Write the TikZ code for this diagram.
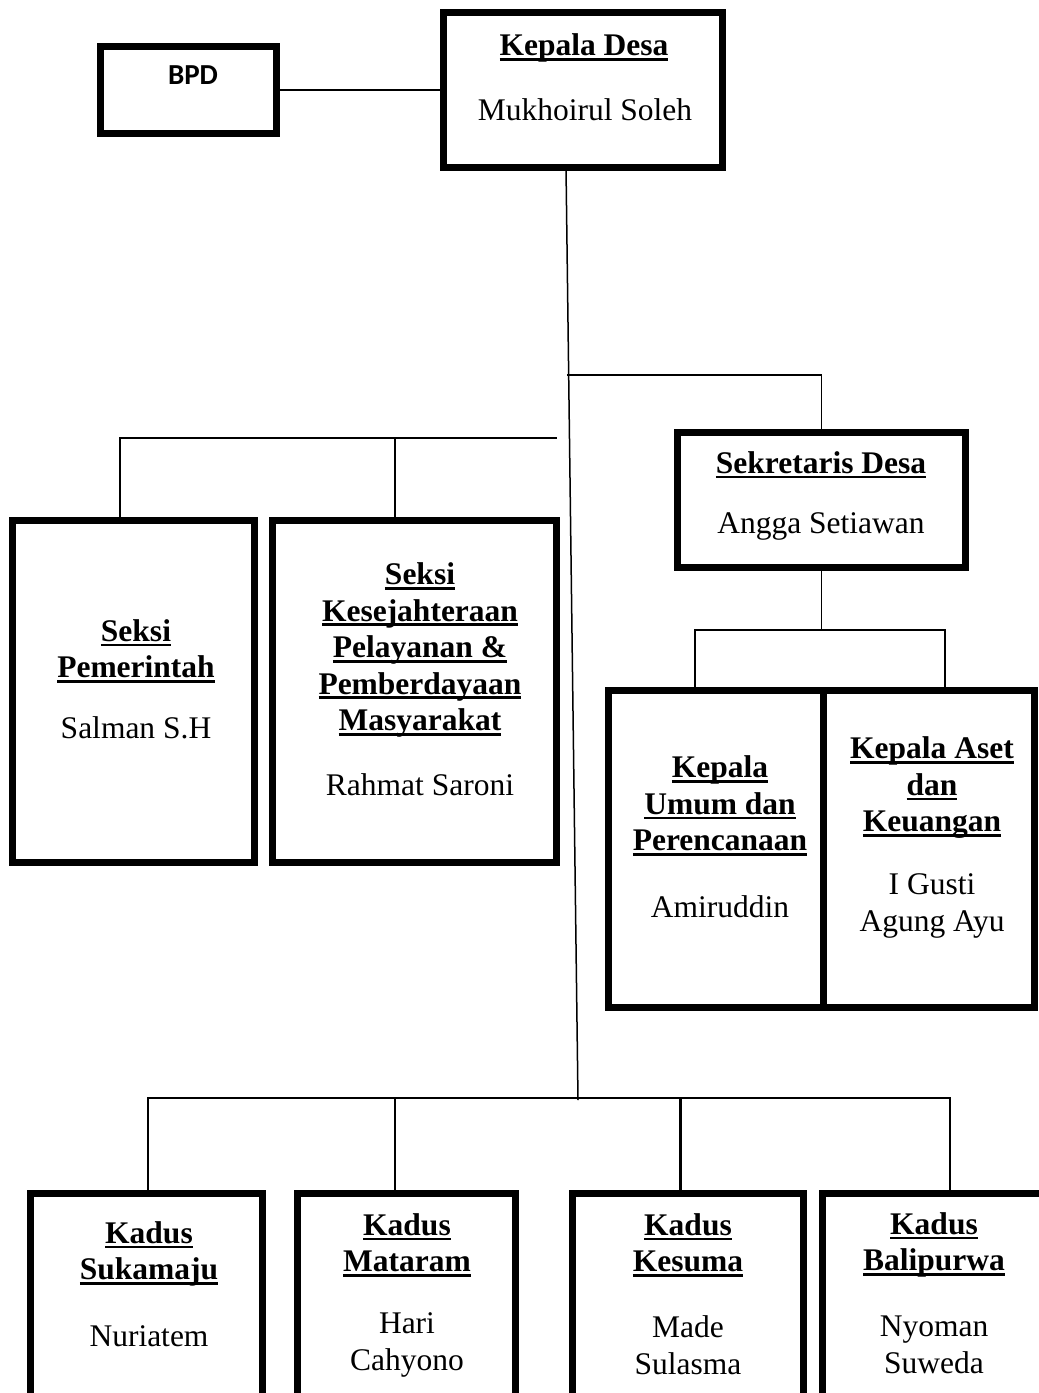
\documentclass[tikz,border=0pt]{standalone}
\usepackage{fontspec}
\setmainfont{Liberation Serif}
\newfontfamily\bpdfont{Carlito}
\newcommand\ulbox[1]{\setbox0=\hbox{#1}\rlap{\rule[-5pt]{\wd0}{2.6pt}}\box0}
\newcommand\boxat[5]{\node[orgbox, anchor=north west, minimum width={#4pt-#2pt-7pt}, minimum height={#5pt-#3pt-7pt}] (#1) at (#2+3.5,#3+3.5) {};}
\tikzset{
  orgbox/.style={draw, line width=7pt, inner sep=0pt, outer sep=0pt},
  conn/.style={line width=1.5pt},
  txt/.style={font=\fontsize{31.5}{36.5}\selectfont, align=center, inner sep=0pt},
  ttl/.style={txt, font=\fontsize{31.5}{36.5}\selectfont\bfseries}
}
\begin{document}
\begin{tikzpicture}[x=1pt,y=-1pt]
\useasboundingbox (0,0) rectangle (1039,1393);
\clip (0,0) rectangle (1039,1393);
% boxes
\boxat{bpd}{97}{43}{280}{137}
\boxat{kd}{440}{9}{726}{171}
\boxat{sek}{674}{429}{969}{571}
\boxat{ku}{605}{687}{827}{1011}
\boxat{ka}{820}{687}{1038}{1011}
\boxat{sp}{9}{517}{258}{866}
\boxat{sk}{269}{517}{560}{866}
\boxat{k1}{27}{1190}{266}{1430}
\boxat{k2}{294}{1190}{519}{1430}
\boxat{k3}{569}{1190}{807}{1430}
\boxat{k4}{819}{1190}{1050}{1430}
% texts
\node[font=\bpdfont\fontsize{29}{33}\selectfont\bfseries, inner sep=0pt] (tbpd) at (193,75) {BPD};
\node[ttl] (tkd) at (584,48) {\ulbox{Kepala Desa}};
\node[txt] (nkd) at (585,110) {Mukhoirul Soleh};
\node[ttl] (tsek) at (821,465) {\ulbox{Sekretaris Desa}};
\node[txt] (nsek) at (821,526) {Angga Setiawan};
\node[ttl] (tsp) at (136,651) {\ulbox{Seksi}\\\ulbox{Pemerintah}};
\node[txt] (nsp) at (136,728) {Salman S.H};
\node[ttl] (tsk) at (420,650) {\ulbox{Seksi}\\\ulbox{Kesejahteraan}\\\ulbox{Pelayanan \&}\\\ulbox{Pemberdayaan}\\\ulbox{Masyarakat}};
\node[txt] (nsk) at (420,785) {Rahmat Saroni};
\node[ttl] (tku) at (720,806) {\ulbox{Kepala}\\\ulbox{Umum dan}\\\ulbox{Perencanaan}};
\node[txt] (nku) at (720,907) {Amiruddin};
\node[ttl] (tka) at (932,788) {\ulbox{Kepala Aset}\\\ulbox{dan}\\\ulbox{Keuangan}};
\node[txt] (nka) at (932,906) {I Gusti\\Agung Ayu};
\node[ttl] (tk1) at (149,1254) {\ulbox{Kadus}\\\ulbox{Sukamaju}};
\node[txt] (nk1) at (149,1336) {Nuriatem};
\node[ttl] (tk2) at (407,1245) {\ulbox{Kadus}\\\ulbox{Mataram}};
\node[txt] (nk2) at (407,1345) {Hari\\Cahyono};
\node[ttl] (tk3) at (688,1245) {\ulbox{Kadus}\\\ulbox{Kesuma}};
\node[txt] (nk3) at (688,1345) {Made\\Sulasma};
\node[ttl] (tk4) at (934,1245) {\ulbox{Kadus}\\\ulbox{Balipurwa}};
\node[txt] (nk4) at (934,1345) {Nyoman\\Suweda};
% connectors
\coordinate (mtop) at (566,167);
\coordinate (mbot) at (578,1100);
\coordinate (j1) at (567,375);
\coordinate (s2) at (695,630);
\coordinate (s3) at (945,630);
\coordinate (l1) at (120,438);
\coordinate (l2) at (557,438);
\coordinate (l3) at (395,438);
\coordinate (b1) at (148,1098);
\coordinate (b2) at (395,1098);
\coordinate (b3) at (680,1098);
\coordinate (b4) at (950,1098);
\draw[conn] (bpd.east) -- (bpd.east -| kd.west);
\draw[conn] (mtop) -- (mbot);
\draw[conn] (j1) -| (sek.north);
\draw[conn] (sek.south) -- (sek.south |- s2);
\draw[conn] (ku.north -| s2) -- (s2) -- (s3) -- (ka.north -| s3);
\draw[conn] (sp.north -| l1) -- (l1) -- (l2);
\draw[conn] (l3) -- (sk.north -| l3);
\draw[conn] (k1.north -| b1) -- (b1) -- (b4) -- (k4.north -| b4);
\draw[conn] (b2) -- (k2.north -| b2);
\draw[conn, line width=3pt] (b3) -- (k3.north -| b3);
\end{tikzpicture}
\end{document}
